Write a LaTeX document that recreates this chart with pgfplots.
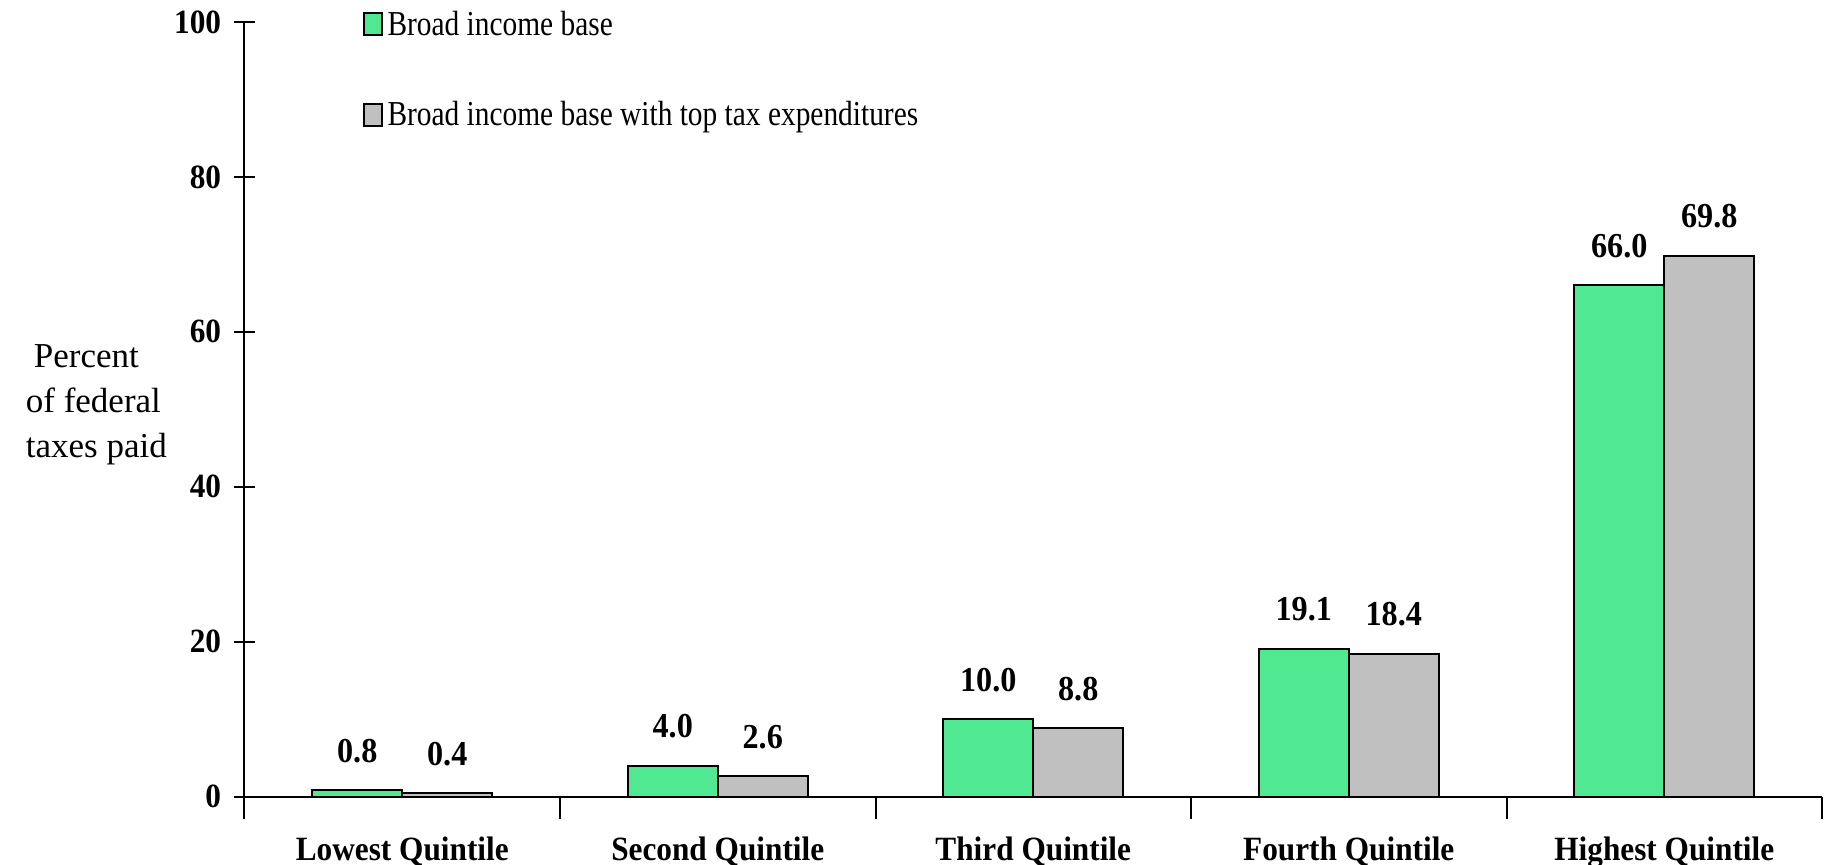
\documentclass[border=0pt]{standalone}
\usepackage{fontspec}
\setmainfont{Liberation Serif}
\newfontfamily\condB[FakeStretch=0.92]{Liberation Serif}
\newfontfamily\condL[FakeStretch=0.84]{Liberation Serif}
\usepackage{pgfplots}
\usepackage{pgfplotstable}
\pgfplotsset{compat=1.18}
\definecolor{bargreen}{RGB}{80,232,144}
\definecolor{bargray}{RGB}{192,192,192}
\pgfplotstableread{
x green gray
0 0.8 0.4
1 4.0 2.6
2 10.0 8.8
3 19.1 18.4
4 66.0 69.8
}\datatable
\begin{document}
\begin{tikzpicture}
\path[use as bounding box] (-122.25pt,-33.75pt) rectangle (790.75pt,398.25pt);
\begin{axis}[
  at={(0,0)}, anchor=south west,
  scale only axis, width=788.75pt, height=387.25pt,
  xmin=-0.5, xmax=4.5, ymin=0, ymax=100,
  axis x line=bottom, axis y line=left,
  axis line style={-, line width=1pt},
  ytick={0,20,...,100},
  xtick={0,...,4},
  xticklabels={Lowest Quintile, Second Quintile, Third Quintile, Fourth Quintile, Highest Quintile},
  minor xtick={-0.5,0.5,...,4.5},
  tick align=center,
  major tick length=10pt, minor tick length=11pt,
  tick style={line width=1pt, black},
  every major x tick/.append style={draw=none},
  /pgf/number format/assume math mode=true,
  yticklabel style={font=\condB\bfseries\fontsize{17}{20}\selectfont, anchor=east, inner sep=0pt, xshift=-6.5pt},
  xticklabel style={font=\condB\bfseries\fontsize{17}{20}\selectfont, anchor=base, inner sep=0pt, yshift=-21.75pt},
  ybar=0pt, bar width=45pt,
  nodes near coords={\pgfmathprintnumber[fixed,fixed zerofill,precision=1,assume math mode=true]{\pgfplotspointmeta}},
  every node near coord/.append style={font=\condB\bfseries\fontsize{17.5}{20}\selectfont, anchor=base, yshift=14pt, inner sep=0pt, text=black},
  legend style={draw=none, fill=none, at={(axis description cs:0,1)}, anchor=north west,
    xshift=59.25pt, yshift=7.3pt, inner sep=0pt, row sep=28.5pt,
    font=\condL\fontsize{17.5}{20}\selectfont, cells={anchor=west},
    nodes={inner sep=1.5pt},
    /tikz/every odd column/.append style={column sep=0.8pt}},
  legend image code/.code={\draw[#1, line width=1pt] (0pt,-5.5pt) rectangle (8.75pt,5.5pt);},
]
\addplot[fill=bargreen, draw=black, line width=1pt] table[x=x, y=green] {\datatable};
\addplot[fill=bargray, draw=black, line width=1pt] table[x=x, y=gray] {\datatable};
\legend{Broad income base, Broad income base with top tax expenditures}
\end{axis}
\node[anchor=west, align=left, inner sep=0pt, font=\fontsize{17.5}{22.5}\selectfont] at (-109.5pt,195.75pt) {\hspace{4pt}Percent\\of federal\\taxes paid};
\end{tikzpicture}
\end{document}
